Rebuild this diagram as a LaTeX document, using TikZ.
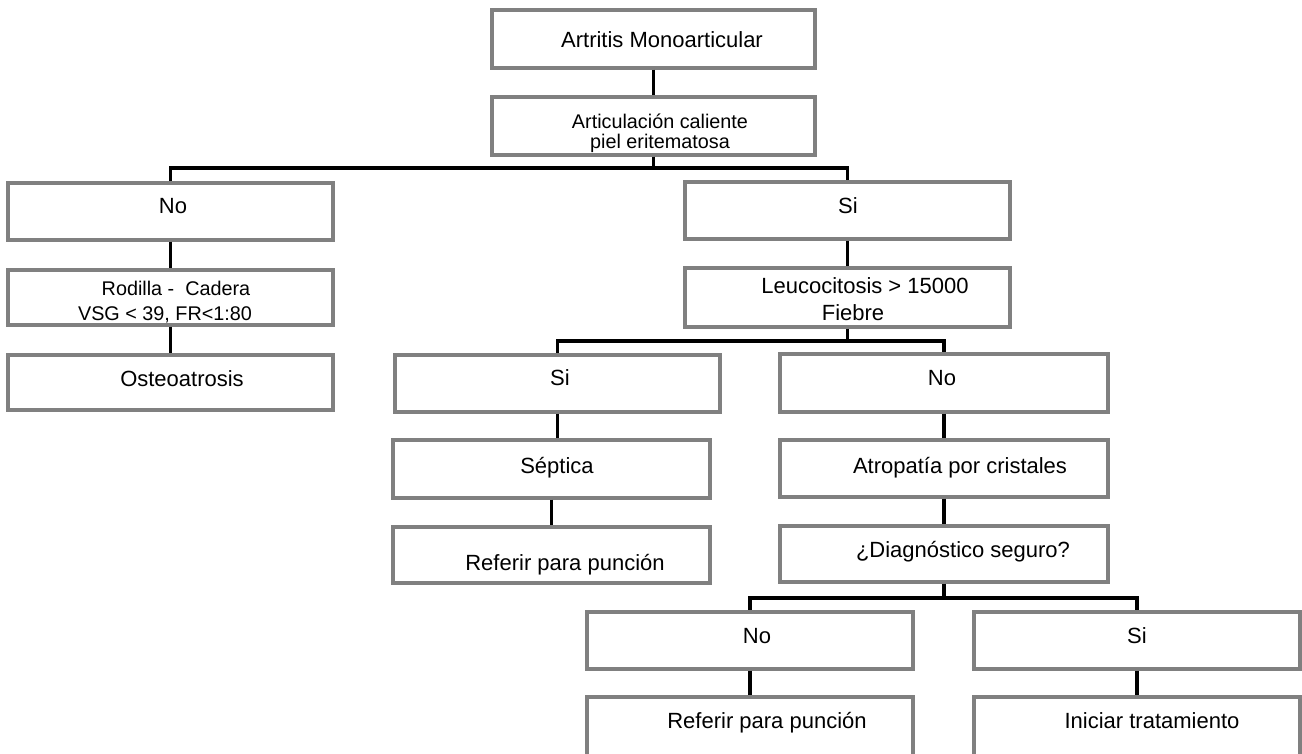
\documentclass[tikz,border=0pt]{standalone}
\usepackage{fontspec}
\setmainfont{Liberation Sans}
\definecolor{boxgray}{RGB}{128,128,128}
\begin{document}
\begin{tikzpicture}[x=1pt,y=-1pt,
  box/.style={draw=boxgray,line width=3.3pt,rectangle,inner sep=0pt,fill=white},
  conn/.style={draw=black,line width=3.8pt},
  big/.style={anchor=base,inner sep=0pt,font=\fontsize{22}{24}\selectfont},
  small/.style={anchor=base,inner sep=0pt,font=\fontsize{19.8}{22}\selectfont}]
\useasboundingbox (0,0) rectangle (1302,753);
\clip (0,0) rectangle (1302,753);
\fill[white] (0,0) rectangle (1302,753);
% boxes
\node[box,minimum width=323,minimum height=58] (b1) at (653.5,39) {};
\node[box,minimum width=323,minimum height=58] (b2) at (653.5,126) {};
\node[box,minimum width=325,minimum height=57] (no1) at (170.5,211.5) {};
\node[box,minimum width=325,minimum height=55] (rod) at (170.5,297.5) {};
\node[box,minimum width=325,minimum height=55] (ost) at (170.5,382.5) {};
\node[box,minimum width=325,minimum height=57] (si1) at (847.5,210.5) {};
\node[box,minimum width=325,minimum height=59] (leu) at (847.5,297.5) {};
\node[box,minimum width=325,minimum height=57] (si2) at (557.5,383.5) {};
\node[box,minimum width=328,minimum height=58] (no2) at (944,383) {};
\node[box,minimum width=317,minimum height=58] (sep) at (551.5,469) {};
\node[box,minimum width=328,minimum height=57] (atr) at (944,468.5) {};
\node[box,minimum width=317,minimum height=56] (ref) at (551.5,555) {};
\node[box,minimum width=328,minimum height=56] (dia) at (944,554) {};
\node[box,minimum width=326,minimum height=57] (no3) at (750,640.5) {};
\node[box,minimum width=326,minimum height=57] (si3) at (1137,640.5) {};
\node[box,minimum width=326,minimum height=83] (ref3) at (750,738.5) {};
\node[box,minimum width=326,minimum height=83] (ini) at (1137,738.5) {};
% junction levels
\coordinate (h1) at (0,168);
\coordinate (h2) at (0,341);
\coordinate (h3) at (0,598);
% connectors
\draw[conn] (b1.south) -- (b2.north);
\draw[conn] (b2.south) -- (b2.south |- h1) -| (no1.north);
\draw[conn] (b2.south |- h1) -| (si1.north);
\draw[conn] (no1.south) -- (rod.north);
\draw[conn] (rod.south) -- (ost.north);
\draw[conn] (si1.south) -- (leu.north);
\draw[conn] (leu.south) -- (leu.south |- h2) -| (si2.north);
\draw[conn] (leu.south |- h2) -| (no2.north);
\draw[conn] (si2.south) -- (si2.south |- sep.north);
\draw[conn] (sep.south) -- (sep.south |- ref.north);
\draw[conn] (no2.south) -- (atr.north);
\draw[conn] (atr.south) -- (dia.north);
\draw[conn] (dia.south) -- (dia.south |- h3) -| (no3.north);
\draw[conn] (dia.south |- h3) -| (si3.north);
\draw[conn] (no3.south) -- (ref3.north);
\draw[conn] (si3.south) -- (ini.north);
% texts
\node[big] (t1) at (662,47) {Artritis Monoarticular};
\node[small] (t2a) at (660,128) {Articulación caliente};
\node[small] (t2b) at (660,148) {piel eritematosa};
\node[big] (tno1) at (173,213) {No};
\node[small] (troda) at (176,295) {Rodilla -\ \ Cadera};
\node[small] (trodb) at (165,320) {VSG < 39, FR<1:80};
\node[big] (tost) at (182,386) {Osteoatrosis};
\node[big] (tsi1) at (848,213) {Si};
\node[big] (tleua) at (865,293) {Leucocitosis > 15000};
\node[big] (tleub) at (853,320) {Fiebre};
\node[big] (tsi2) at (560,385) {Si};
\node[big] (tno2) at (942,385) {No};
\node[big] (tsep) at (557,473) {Séptica};
\node[big] (tatr) at (960,473) {Atropatía por cristales};
\node[big] (tref) at (565,570) {Referir para punción};
\node[big] (tdia) at (963,557) {¿Diagnóstico seguro?};
\node[big] (tno3) at (757,643) {No};
\node[big] (tsi3) at (1137,643) {Si};
\node[big] (tref3) at (767,728) {Referir para punción};
\node[big] (tini) at (1152,728) {Iniciar tratamiento};
\end{tikzpicture}
\end{document}
